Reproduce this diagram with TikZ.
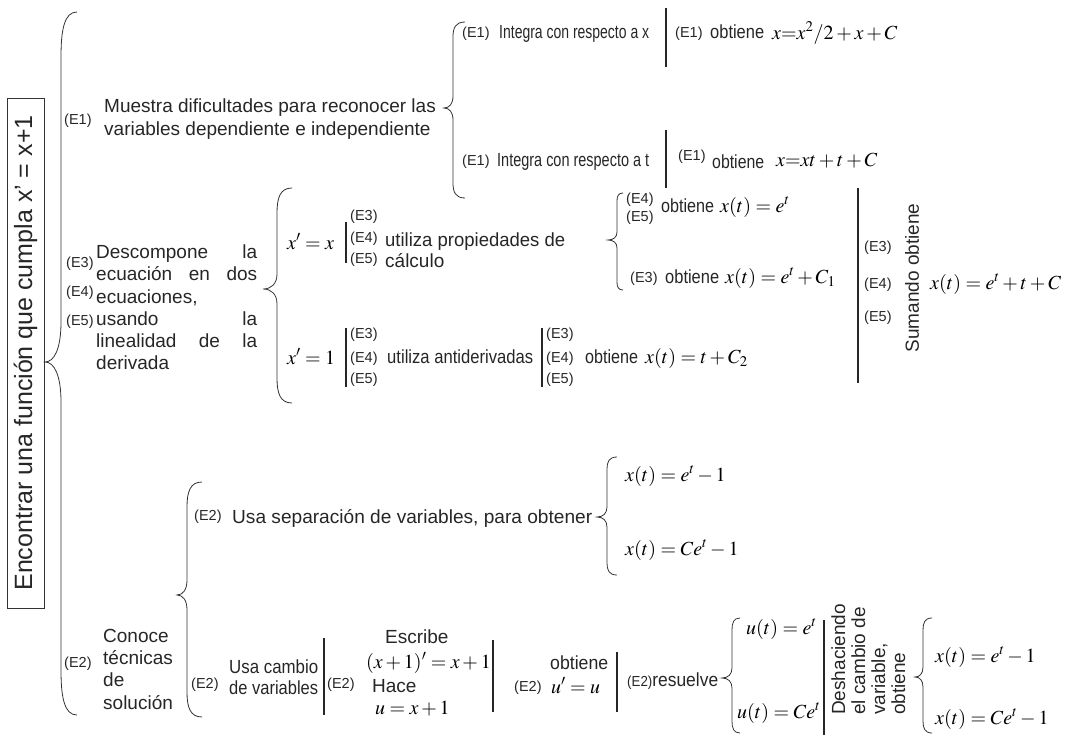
\documentclass[tikz,border=0pt]{standalone}
\usepackage{graphicx}
\usepackage{mathptmx}
\usepackage[no-math]{fontspec}
\setmainfont{Liberation Sans}
\newcommand{\fmain}{\fontsize{19}{22}\selectfont}
\newcommand{\fsmall}{\fontsize{14.5}{16}\selectfont}
\newcommand{\fmath}{\fontsize{20}{22}\selectfont}
\newcommand{\ftitle}{\fontsize{25}{28}\selectfont}
\newcommand{\nw}[2]{\resizebox{#1pt}{\height}{#2}}
\newcommand{\teq}{\mathord{=}}
% brace: X, ytop, ytip, ybottom, hook, depth, r, rtip
\newcommand{\brc}[8]{%
  \draw[bracestyle] ({#1+#5},#2) .. controls ({#1+0.2*#5},#2) and (#1,{#2+0.4*#7}) .. (#1,{#2+#7})
   -- (#1,{#3-#8}) .. controls (#1,{#3-0.35*#8}) and ({#1-0.4*#6},#3) .. ({#1-#6},#3)
   .. controls ({#1-0.4*#6},#3) and (#1,{#3+0.35*#8}) .. (#1,{#3+#8})
   -- (#1,{#4-#7}) .. controls (#1,{#4-0.4*#7}) and ({#1+0.2*#5},#4) .. ({#1+#5},#4);}
\begin{document}
\begin{tikzpicture}[x=1pt,y=-1pt,
  tx/.style={inner sep=0,anchor=base west,font=\fmain,text=black!85},
  el/.style={inner sep=0,anchor=base west,font=\fsmall,text=black!85},
  mth/.style={inner sep=0,anchor=base west,font=\fmath,text=black},
  rot/.style={inner sep=0,anchor=base west,font=\fmain,text=black!85,rotate=90},
  bar/.style={line width=1.1pt,black!85},
  bracestyle/.style={line width=0.8pt,black!80}]
\useasboundingbox (0,0) rectangle (1082,736);
% title
\node[draw=black!80,line width=0.8pt,rotate=90,inner sep=0,minimum width=510pt,minimum height=37pt,font=\ftitle,text=black!85] (title) at (25.5,353) {Encontrar una función que cumpla x' = x+1};
\brc{61}{12}{362}{715}{16}{16}{45}{40}
% E1 branch
\node[el] (m0) at (64,124) {(E1)};
\node[tx] (m1) at (104,112) {Muestra dificultades para reconocer las};
\node[tx] (m2) at (104,135) {variables dependiente e independiente};
\brc{453}{22}{108}{198}{12}{9}{15}{12}
\node[el] (a0) at (462,37) {(E1)};
\node[tx] (a1) at (499,38) {\nw{150}{Integra con respecto a x}};
\draw[bar] (666,8) -- (666,67);
\node[el] (a2) at (675,37) {(E1)};
\node[tx] (a3) at (710,38) {\nw{54}{obtiene}};
\node[mth] (a4) at (772,39) {$x\teq x^2/2+x+C$};
\node[el] (b0) at (462,165) {(E1)};
\node[tx] (b1) at (497,166) {\nw{152}{Integra con respecto a t}};
\draw[bar] (666,130) -- (666,188);
\node[el] (b2) at (678,160) {(E1)};
\node[tx] (b3) at (712,168) {\nw{52}{obtiene}};
\node[mth] (b4) at (776,166) {$x\teq xt+t+C$};
% E3 E4 E5 branch
\node[el] (d0) at (66,267) {(E3)};
\node[el] (d1) at (66,296) {(E4)};
\node[el] (d2) at (66,325) {(E5)};
\node[tx] (d3) at (96,258) {\hbox to 161pt{Descompone\hfill la}};
\node[tx] (d4) at (96,280) {\hbox to 161pt{ecuación\hfill en\hfill dos}};
\node[tx] (d5) at (96,303) {ecuaciones,};
\node[tx] (d6) at (96,325) {\hbox to 161pt{usando\hfill la}};
\node[tx] (d7) at (96,347) {\hbox to 161pt{linealidad\hfill de\hfill la}};
\node[tx] (d8) at (96,369) {derivada};
\brc{277}{188}{289}{403}{15}{14}{25}{15}
% x'=x
\node[mth] (p0) at (287,249) {$x'=x$};
\draw[bar] (346,222) -- (346,263);
\node[el] (p1) at (350,220) {(E3)};
\node[el] (p2) at (350,242) {(E4)};
\node[el] (p3) at (350,263) {(E5)};
\node[tx] (p4) at (385,246) {\nw{180}{utiliza propiedades de}};
\node[tx] (p5) at (385,267) {cálculo};
\brc{617}{193}{240}{290}{6}{9}{8}{8}
\node[el] (q0) at (626,203) {(E4)};
\node[el] (q1) at (626,221) {(E5)};
\node[tx] (q2) at (661,212) {\nw{53}{obtiene}};
\node[mth] (q3) at (720,212) {$x(t)=e^t$};
\node[el] (q4) at (630,282) {(E3)};
\node[tx] (q5) at (665,283) {\nw{54}{obtiene}};
\node[mth] (q6) at (725,283) {$x(t)=e^t+C_1$};
% x'=1
\node[mth] (r0) at (287,364) {$x'=1$};
\draw[bar] (346,328) -- (346,387);
\node[el] (r1) at (350,338) {(E3)};
\node[el] (r2) at (350,362) {(E4)};
\node[el] (r3) at (350,383) {(E5)};
\node[tx] (r4) at (387,363) {\nw{146}{utiliza antiderivadas}};
\draw[bar] (542,328) -- (542,387);
\node[el] (r5) at (546,338) {(E3)};
\node[el] (r6) at (546,362) {(E4)};
\node[el] (r7) at (546,383) {(E5)};
\node[tx] (r8) at (585,363) {\nw{53}{obtiene}};
\node[mth] (r9) at (645,363) {$x(t)=t+C_2$};
% sum
\draw[bar] (858,188) -- (858,383);
\node[el] (s0) at (864,251) {(E3)};
\node[el] (s1) at (864,288) {(E4)};
\node[el] (s2) at (864,321) {(E5)};
\node[inner sep=0,font=\fmain,text=black!85,rotate=90] (s3) at (912,278) {Sumando obtiene};
\node[mth] (s4) at (930,289) {$x(t)=e^t+t+C$};
% E2 branch
\node[el] (c0) at (64,667) {(E2)};
\node[tx] (c1) at (103,642) {Conoce};
\node[tx] (c2) at (103,664) {técnicas};
\node[tx] (c3) at (103,686) {de};
\node[tx] (c4) at (103,709) {solución};
\brc{187}{482}{595}{717}{15}{10}{25}{15}
\node[el] (v0) at (194,520) {(E2)};
\node[tx] (v1) at (232,523) {\nw{360}{Usa separación de variables, para obtener}};
\brc{607}{457}{517}{575}{10}{10}{12}{10}
\node[mth] (v2) at (625,481) {$x(t)=e^t-1$};
\node[mth] (v3) at (625,555) {$x(t)=Ce^t-1$};
% cambio de variables
\node[el] (w0) at (191,688) {(E2)};
\node[tx] (w1) at (229,673) {\nw{89}{Usa cambio}};
\node[tx] (w2) at (229,694) {\nw{89}{de variables}};
\draw[bar] (324,638) -- (324,715);
\node[el] (w3) at (327,688) {(E2)};
\node[tx] (w4) at (385,643) {Escribe};
\node[mth] (w5) at (366,668) {$(x+1)'=x+1$};
\node[tx] (w6) at (372,692) {Hace};
\node[mth] (w7) at (375,714) {$u=x+1$};
\draw[bar] (493,640) -- (493,712);
\node[el] (w8) at (514,691) {(E2)};
\node[tx] (w9) at (550,669) {\nw{58}{obtiene}};
\node[mth] (w10) at (551,693) {$u'=u$};
\draw[bar] (617,652) -- (617,712);
\node[tx] (w11) at (627,686) {\nw{91}{{\fsmall(E2)}resuelve}};
\brc{732}{618}{678}{733}{8}{10}{12}{10}
\node[mth] (w12) at (746,634) {$u(t)=e^t$};
\node[mth] (w13) at (737,718) {$u(t)=Ce^t$};
\draw[bar] (824,620) -- (824,735);
\node[rot] (w14) at (845,715) {Deshaciendo};
\node[rot] (w15) at (865,715) {el cambio de};
\node[rot] (w16) at (885,715) {variable,};
\node[rot] (w17) at (905,715) {obtiene};
\brc{923}{618}{677}{733}{9}{8}{12}{10}
\node[mth] (w18) at (935,662) {$x(t)=e^t-1$};
\node[mth] (w19) at (935,724) {$x(t)=Ce^t-1$};
\end{tikzpicture}
\end{document}
